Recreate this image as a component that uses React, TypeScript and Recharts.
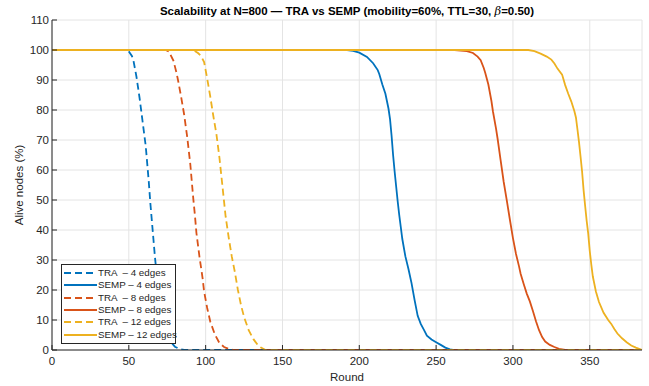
import React from "react";
import {
  LineChart,
  Line,
  XAxis,
  YAxis,
  CartesianGrid,
  Legend,
} from "recharts";

// ---- Data ----
const traRounds4 = [0, 48, 50, 52, 53, 55, 57, 59, 61, 63, 64, 65, 66, 67, 68, 70, 72, 74, 76, 78, 80, 83, 86, 384];
const traAlive4 = [100, 100, 99.5, 98, 96.5, 91, 84, 76, 68, 56, 49, 43, 37, 31, 26, 18, 12, 7.5, 4.5, 2.3, 1.1, 0.3, 0, 0];

const sempRounds4 = [0, 192, 196, 200, 205, 209, 212, 213, 215, 217, 219, 220, 221, 222, 223, 224, 225, 226, 227, 228, 230, 232, 234, 236, 238, 240, 242, 244, 247, 250, 253, 256, 259, 261, 384];
const sempAlive4 = [100, 100, 99.7, 99.1, 97.7, 95.6, 93.3, 92, 88.5, 85.4, 80.5, 77, 71.5, 65, 59.5, 54.5, 49.5, 45, 41, 37, 31.2, 27, 22.3, 16.6, 11.4, 8.7, 6.8, 4.8, 3.5, 2.6, 1.7, 0.8, 0.2, 0, 0];

const traRounds8 = [0, 74, 76, 78, 79, 81, 82, 84, 86, 88, 90, 92, 93, 94, 96, 98, 99, 101, 103, 106, 109, 112, 115, 118, 384];
const traAlive8 = [100, 100, 99.5, 97.5, 96.5, 92.5, 90, 84.5, 78.5, 71, 62, 50.2, 45, 39, 31, 24, 19.5, 14, 9.5, 5.2, 2.3, 1, 0.4, 0, 0];

const sempRounds8 = [0, 262, 266, 270, 274, 277, 279, 281, 282, 284, 286, 287, 289, 290, 292, 294, 296, 298, 300, 302, 304, 305, 307, 309, 311, 313, 315, 317, 319, 321, 324, 327, 330, 334, 384];
const sempAlive8 = [100, 100, 99.8, 99.6, 99, 97.8, 96.6, 94, 92.3, 88.5, 83, 79.5, 73.8, 70.5, 63.2, 56, 49.9, 43.5, 37.3, 32, 27.8, 25.4, 22, 18.8, 16.2, 13, 9.6, 6.6, 4.3, 2.8, 1.7, 1, 0.4, 0, 0];

const traRounds12 = [0, 92, 95, 97, 99, 101, 103, 105, 107, 109, 111, 113, 115, 117, 119, 121, 123, 125, 128, 131, 134, 136, 139, 384];
const traAlive12 = [100, 100, 99, 98, 96, 90.5, 84.5, 78, 72, 64, 54.3, 44.5, 37.5, 31.2, 26, 20, 15, 11, 6.6, 3.7, 1.6, 0.8, 0, 0];

const sempRounds12 = [0, 310, 314, 318, 322, 325, 327, 329, 332, 334, 336, 338, 340, 341, 342, 343, 344, 345, 346, 347, 348, 349, 350, 351, 352, 354, 356, 359, 362, 364, 366, 368, 371, 374, 377, 380, 384];
const sempAlive12 = [100, 100, 99.6, 98.8, 97.8, 96.8, 95.5, 93.8, 91.8, 88.3, 85.4, 82.8, 79.6, 77.5, 73.5, 69.3, 64.5, 59.5, 53.2, 48, 43, 38.8, 33, 28.5, 24.5, 19.5, 16, 12.4, 10, 8.7, 7, 5.5, 3.9, 2.6, 1.5, 0.8, 0];

const xTicks = [0, 50, 100, 150, 200, 250, 300, 350];
const yTicks = [0, 10, 20, 30, 40, 50, 60, 70, 80, 90, 100, 110];

const seriesNames = [
  "TRA  \u2013 4 edges",
  "SEMP \u2013 4 edges",
  "TRA  \u2013 8 edges",
  "SEMP \u2013 8 edges",
  "TRA  \u2013 12 edges",
  "SEMP \u2013 12 edges",
];

const BLUE = "#0072BD";
const ORANGE = "#D95319";
const YELLOW = "#EDB120";
const AXIS = "#262626";
const FONT = "'Liberation Sans', Arial, Helvetica, sans-serif";
const FS = 11.5;

const zip = (xs: number[], ys: number[]) => xs.map((x, i) => ({ round: x, alive: ys[i] }));

const series = [
  { name: seriesNames[0], data: zip(traRounds4, traAlive4), color: BLUE, dashed: true },
  { name: seriesNames[1], data: zip(sempRounds4, sempAlive4), color: BLUE, dashed: false },
  { name: seriesNames[2], data: zip(traRounds8, traAlive8), color: ORANGE, dashed: true },
  { name: seriesNames[3], data: zip(sempRounds8, sempAlive8), color: ORANGE, dashed: false },
  { name: seriesNames[4], data: zip(traRounds12, traAlive12), color: YELLOW, dashed: true },
  { name: seriesNames[5], data: zip(sempRounds12, sempAlive12), color: YELLOW, dashed: false },
];

const DASH = "7 4";

const BottomTick = (props: any) => {
  const { x, y, payload } = props;
  return (
    <g>
      <line x1={x} y1={y} x2={x} y2={y - 5} stroke={AXIS} strokeWidth={1} />
      <text x={x} y={y + 14.5} textAnchor="middle" fontSize={FS} fill={AXIS} fontFamily={FONT}>
        {payload.value}
      </text>
    </g>
  );
};

const LeftTick = (props: any) => {
  const { x, y, payload } = props;
  return (
    <g>
      <line x1={x} y1={y} x2={x + 5} y2={y} stroke={AXIS} strokeWidth={1} />
      <text x={x - 3} y={y + 4} textAnchor="end" fontSize={FS} fill={AXIS} fontFamily={FONT}>
        {payload.value}
      </text>
    </g>
  );
};

const TopTick = (props: any) => {
  const { x, y } = props;
  return <line x1={x} y1={y} x2={x} y2={y + 5} stroke={AXIS} strokeWidth={1} />;
};

const RightTick = (props: any) => {
  const { x, y } = props;
  return <line x1={x} y1={y} x2={x - 5} y2={y} stroke={AXIS} strokeWidth={1} />;
};

const LegendBox = () => (
  <div
    style={{
      border: `1px solid ${AXIS}`,
      background: "#fff",
      width: 113,
      padding: "2px 0 2px 0",
      fontFamily: FONT,
      fontSize: 9.8,
      color: AXIS,
      boxSizing: "content-box",
    }}
  >
    {series.map((s) => (
      <div key={s.name} style={{ display: "flex", alignItems: "center", height: 12.3, whiteSpace: "pre" }}>
        <svg width={36} height={8} style={{ flex: "none" }}>
          <line
            x1={2}
            y1={4}
            x2={35}
            y2={4}
            stroke={s.color}
            strokeWidth={1.8}
            strokeDasharray={s.dashed ? DASH : undefined}
          />
        </svg>
        <span style={{ lineHeight: "12px" }}>{s.name}</span>
      </div>
    ))}
  </div>
);

export default function App() {
  return (
    <div style={{ position: "absolute", left: 0, top: 0, width: 649, height: 386, background: "#fff" }}>
      <div
        style={{
          position: "absolute",
          left: 52,
          width: 590,
          top: 4,
          textAlign: "center",
          fontFamily: FONT,
          fontWeight: "bold",
          fontSize: 11.5,
          color: "#000",
          whiteSpace: "pre",
        }}
      >
        {"Scalability at N=800 \u2014 TRA vs SEMP (mobility=60%, TTL=30, "}
        <span style={{ fontStyle: "italic", fontWeight: "normal", fontFamily: "'DejaVu Serif', serif" }}>{"\u03b2"}</span>
        {"=0.50)"}
      </div>
      <LineChart
        width={649}
        height={386}
        margin={{ top: 20, right: 7, bottom: 0, left: 0 }}
        style={{ position: "absolute", left: 0, top: 0 }}
      >
        <CartesianGrid stroke="#e4e4e4" strokeWidth={1} />
        <XAxis
          dataKey="round"
          type="number"
          domain={[0, 384]}
          ticks={xTicks}
          allowDataOverflow
          height={36}
          tickSize={0}
          tickMargin={0}
          tickLine={false}
          axisLine={{ stroke: AXIS }}
          tick={<BottomTick />}
          interval={0}
          label={{ value: "Round", position: "insideBottom", offset: 5, fill: AXIS, fontSize: FS, fontFamily: FONT }}
        />
        <XAxis
          xAxisId="top"
          orientation="top"
          type="number"
          domain={[0, 384]}
          ticks={xTicks}
          allowDataOverflow
          height={0}
          tickSize={0}
          tickMargin={0}
          tickLine={false}
          axisLine={{ stroke: AXIS }}
          tick={<TopTick />}
          interval={0}
        />
        <YAxis
          type="number"
          domain={[0, 110]}
          ticks={yTicks}
          allowDataOverflow
          width={52}
          tickSize={0}
          tickMargin={0}
          tickLine={false}
          axisLine={{ stroke: AXIS }}
          tick={<LeftTick />}
          interval={0}
          label={{
            value: "Alive nodes (%)",
            angle: -90,
            position: "insideLeft",
            offset: 19,
            style: { textAnchor: "middle" },
            fill: AXIS,
            fontSize: FS,
            fontFamily: FONT,
          }}
        />
        <YAxis
          yAxisId="right"
          orientation="right"
          type="number"
          domain={[0, 110]}
          ticks={yTicks}
          allowDataOverflow
          width={0}
          tickSize={0}
          tickMargin={0}
          tickLine={false}
          axisLine={{ stroke: AXIS }}
          tick={<RightTick />}
          interval={0}
        />
        {series.map((s) => (
          <Line
            key={s.name}
            data={s.data}
            dataKey="alive"
            name={s.name}
            type="linear"
            stroke={s.color}
            strokeWidth={1.8}
            strokeDasharray={s.dashed ? DASH : undefined}
            dot={false}
            activeDot={false}
            isAnimationActive={false}
          />
        ))}
        <Legend
          layout="vertical"
          align="center"
          verticalAlign="middle"
          content={<LegendBox />}
          wrapperStyle={{ left: 61, top: 264, width: 115, height: 77 }}
        />
      </LineChart>
    </div>
  );
}
